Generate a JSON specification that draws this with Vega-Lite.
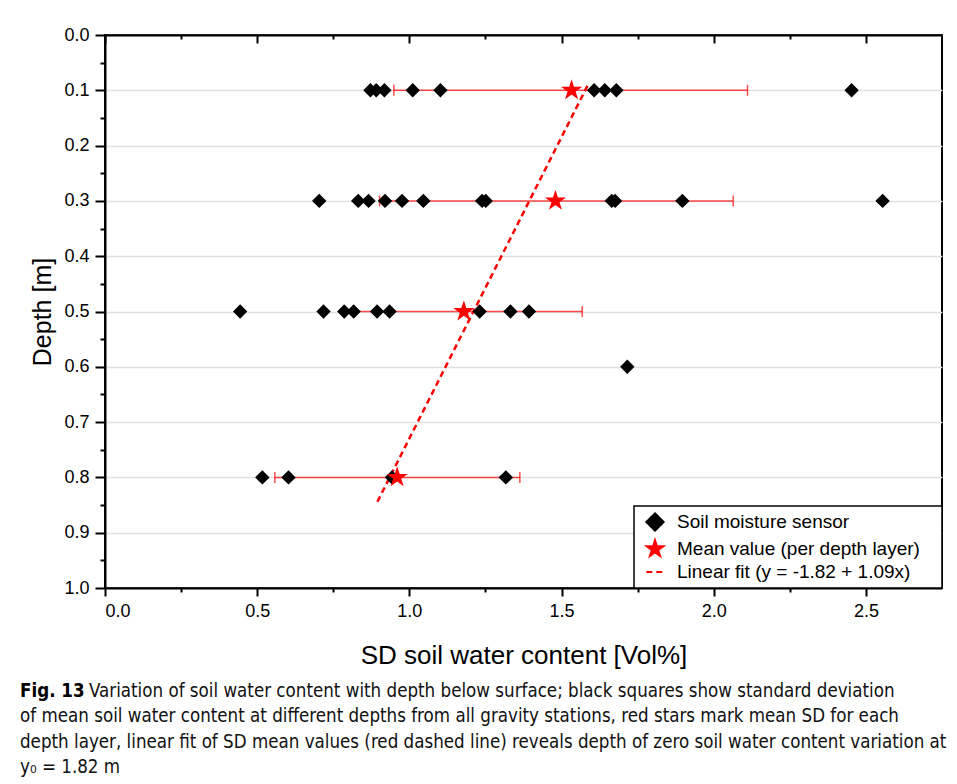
{
  "$schema": "https://vega.github.io/schema/vega-lite/v6.json",
  "width": 837,
  "height": 553,
  "autosize": {"type": "none"},
  "padding": {"left": 105, "top": 35, "right": 15, "bottom": 196},
  "background": "white",
  "config": {
    "font": "Liberation Sans",
    "view": {"stroke": "black", "strokeWidth": 2},
    "axis": {
      "labelFont": "Liberation Sans", "labelFontSize": 18, "labelColor": "black",
      "titleFont": "Liberation Sans", "titleFontWeight": "normal", "titleColor": "black",
      "domainColor": "black", "domainWidth": 2, "tickColor": "black", "tickWidth": 2
    },
    "legend": {
      "orient": "bottom-right", "offset": 0, "strokeColor": "black", "strokeWidth": 1.5,
      "fillColor": "white", "padding": 6, "labelFont": "Liberation Sans", "labelFontSize": 19,
      "labelColor": "black", "symbolSize": 300, "symbolOffset": 5, "rowPadding": 1, "labelOffset": 12, "cornerRadius": 0,
      "labelLimit": 500, "symbolStrokeWidth": 2
    }
  },
  "title": {
    "text": "Fig. 13",
    "subtitle": [
      "\u200b\u00a0\u00a0\u00a0\u00a0\u00a0\u00a0\u00a0\u00a0\u00a0\u00a0\u00a0\u00a0\u00a0Variation of soil water content with depth below surface; black squares show standard deviation",
      "of mean soil water content at different depths from all gravity stations, red stars mark mean SD for each",
      "depth layer, linear fit of SD mean values (red dashed line) reveals depth of zero soil water content variation at",
      "y\u2080 = 1.82 m"
    ],
    "orient": "bottom", "anchor": "start", "frame": "group", "dx": -85, "offset": 14,
    "font": "Liberation Sans Narrow, DejaVu Sans Condensed, sans-serif", "fontSize": 18.6, "fontWeight": "bold", "color": "black",
    "subtitleFont": "Liberation Sans Narrow, DejaVu Sans Condensed, sans-serif", "subtitleFontSize": 18.6, "subtitleColor": "#111111",
    "subtitleLineHeight": 25.5, "subtitlePadding": -19
  },
  "datasets": {
    "sensors": [
      {"depth": 0.1, "sd": 0.872, "series": "Soil moisture sensor"},
      {"depth": 0.1, "sd": 0.891, "series": "Soil moisture sensor"},
      {"depth": 0.1, "sd": 0.918, "series": "Soil moisture sensor"},
      {"depth": 0.1, "sd": 1.011, "series": "Soil moisture sensor"},
      {"depth": 0.1, "sd": 1.102, "series": "Soil moisture sensor"},
      {"depth": 0.1, "sd": 1.607, "series": "Soil moisture sensor"},
      {"depth": 0.1, "sd": 1.642, "series": "Soil moisture sensor"},
      {"depth": 0.1, "sd": 1.680, "series": "Soil moisture sensor"},
      {"depth": 0.1, "sd": 2.453, "series": "Soil moisture sensor"},
      {"depth": 0.3, "sd": 0.704, "series": "Soil moisture sensor"},
      {"depth": 0.3, "sd": 0.832, "series": "Soil moisture sensor"},
      {"depth": 0.3, "sd": 0.866, "series": "Soil moisture sensor"},
      {"depth": 0.3, "sd": 0.920, "series": "Soil moisture sensor"},
      {"depth": 0.3, "sd": 0.976, "series": "Soil moisture sensor"},
      {"depth": 0.3, "sd": 1.046, "series": "Soil moisture sensor"},
      {"depth": 0.3, "sd": 1.239, "series": "Soil moisture sensor"},
      {"depth": 0.3, "sd": 1.251, "series": "Soil moisture sensor"},
      {"depth": 0.3, "sd": 1.665, "series": "Soil moisture sensor"},
      {"depth": 0.3, "sd": 1.676, "series": "Soil moisture sensor"},
      {"depth": 0.3, "sd": 1.897, "series": "Soil moisture sensor"},
      {"depth": 0.3, "sd": 2.555, "series": "Soil moisture sensor"},
      {"depth": 0.5, "sd": 0.444, "series": "Soil moisture sensor"},
      {"depth": 0.5, "sd": 0.718, "series": "Soil moisture sensor"},
      {"depth": 0.5, "sd": 0.786, "series": "Soil moisture sensor"},
      {"depth": 0.5, "sd": 0.817, "series": "Soil moisture sensor"},
      {"depth": 0.5, "sd": 0.894, "series": "Soil moisture sensor"},
      {"depth": 0.5, "sd": 0.935, "series": "Soil moisture sensor"},
      {"depth": 0.5, "sd": 1.231, "series": "Soil moisture sensor"},
      {"depth": 0.5, "sd": 1.332, "series": "Soil moisture sensor"},
      {"depth": 0.5, "sd": 1.393, "series": "Soil moisture sensor"},
      {"depth": 0.6, "sd": 1.716, "series": "Soil moisture sensor"},
      {"depth": 0.8, "sd": 0.517, "series": "Soil moisture sensor"},
      {"depth": 0.8, "sd": 0.603, "series": "Soil moisture sensor"},
      {"depth": 0.8, "sd": 0.943, "series": "Soil moisture sensor"},
      {"depth": 0.8, "sd": 1.317, "series": "Soil moisture sensor"}
    ],
    "means": [
      {"depth": 0.1, "mean": 1.533, "lo": 0.949, "hi": 2.111, "series": "Mean value (per depth layer)"},
      {"depth": 0.3, "mean": 1.480, "lo": 0.902, "hi": 2.064, "series": "Mean value (per depth layer)"},
      {"depth": 0.5, "mean": 1.179, "lo": 0.790, "hi": 1.568, "series": "Mean value (per depth layer)"},
      {"depth": 0.8, "mean": 0.960, "lo": 0.558, "hi": 1.363, "series": "Mean value (per depth layer)"}
    ],
    "fit": [
      {"depth": 0.844, "sd": 0.895, "series": "Linear fit (y = -1.82 + 1.09x)"},
      {"depth": 0.092, "sd": 1.585, "series": "Linear fit (y = -1.82 + 1.09x)"}
    ]
  },
  "encoding": {
    "y": {
      "field": "depth", "type": "quantitative", "title": "Depth [m]",
      "scale": {"domain": [0, 1], "reverse": true, "nice": false, "zero": false},
      "axis": {
        "values": [0, 0.05, 0.1, 0.15, 0.2, 0.25, 0.3, 0.35, 0.4, 0.45, 0.5, 0.55, 0.6, 0.65, 0.7, 0.75, 0.8, 0.85, 0.9, 0.95, 1],
        "labelExpr": "round(datum.value*100) % 10 === 0 ? format(datum.value, '.1f') : ''",
        "tickSize": {"condition": {"test": "round(datum.value*100) % 10 === 0", "value": 10}, "value": 5},
        "grid": true, "gridColor": "#e0e0e0", "gridWidth": 1.5,
        "gridOpacity": {"condition": {"test": "round(datum.value*100) % 10 === 0", "value": 1}, "value": 0},
        "labelPadding": 6, "titleFontSize": 25, "titlePadding": 8
      }
    }
  },
  "layer": [
    {
      "data": {"name": "means"},
      "mark": {"type": "rule", "color": "#ff0000", "opacity": 0.7, "strokeWidth": 1.5},
      "encoding": {
        "x": {
          "field": "lo", "type": "quantitative",
          "scale": {"domain": [0, 2.75], "nice": false, "zero": false},
          "axis": {
            "orient": "top", "values": [0, 0.25, 0.5, 0.75, 1, 1.25, 1.5, 1.75, 2, 2.25, 2.5],
            "labels": false, "grid": false, "title": null,
            "tickSize": {"condition": {"test": "round(datum.value*100) % 50 === 0", "value": -8}, "value": -4}
          }
        },
        "x2": {"field": "hi"}
      }
    },
    {
      "data": {"name": "means"},
      "mark": {"type": "tick", "orient": "vertical", "color": "#ff0000", "opacity": 0.7, "size": 11, "thickness": 1.5},
      "encoding": {"x": {"field": "lo", "type": "quantitative", "axis": null}}
    },
    {
      "data": {"name": "means"},
      "mark": {"type": "tick", "orient": "vertical", "color": "#ff0000", "opacity": 0.7, "size": 11, "thickness": 1.5},
      "encoding": {"x": {"field": "hi", "type": "quantitative", "axis": null}}
    },
    {
      "data": {"name": "fit"},
      "mark": {"type": "line", "strokeWidth": 2.5},
      "encoding": {
        "x": {"field": "sd", "type": "quantitative", "axis": null},
        "stroke": {
          "field": "series", "type": "nominal",
          "scale": {
            "domain": ["Soil moisture sensor", "Mean value (per depth layer)", "Linear fit (y = -1.82 + 1.09x)"],
            "range": ["black", "red", "red"]
          },
          "legend": {"title": null, "labelExpr": "datum.label + '\u00a0\u00a0\u00a0\u200b'"}
        },
        "strokeDash": {
          "field": "series", "type": "nominal",
          "scale": {
            "domain": ["Soil moisture sensor", "Mean value (per depth layer)", "Linear fit (y = -1.82 + 1.09x)"],
            "range": [[1, 0], [1, 0], [6, 4]]
          },
          "legend": {"title": null, "labelExpr": "datum.label + '\u00a0\u00a0\u00a0\u200b'"}
        }
      }
    },
    {
      "data": {"name": "sensors"},
      "mark": {"type": "point", "filled": true, "size": 150, "strokeWidth": 1.5, "opacity": 1},
      "encoding": {
        "x": {
          "field": "sd", "type": "quantitative", "title": "SD soil water content [Vol%]",
          "axis": {
            "orient": "bottom", "values": [0, 0.25, 0.5, 0.75, 1, 1.25, 1.5, 1.75, 2, 2.25, 2.5],
            "labelExpr": "round(datum.value*100) % 50 === 0 ? format(datum.value, '.1f') : ''",
            "tickSize": {"condition": {"test": "round(datum.value*100) % 50 === 0", "value": 8}, "value": 4},
            "grid": false, "labelPadding": 6, "titleFontSize": 26, "titlePadding": 22
          }
        },
        "fill": {
          "field": "series", "type": "nominal",
          "scale": {
            "domain": ["Soil moisture sensor", "Mean value (per depth layer)", "Linear fit (y = -1.82 + 1.09x)"],
            "range": ["black", "red", "transparent"]
          },
          "legend": {"title": null, "labelExpr": "datum.label + '\u00a0\u00a0\u00a0\u200b'"}
        },
        "stroke": {"field": "series", "type": "nominal", "legend": {"title": null, "labelExpr": "datum.label + '\u00a0\u00a0\u00a0\u200b'"}},
        "shape": {
          "field": "series", "type": "nominal",
          "scale": {
            "domain": ["Soil moisture sensor", "Mean value (per depth layer)", "Linear fit (y = -1.82 + 1.09x)"],
            "range": ["diamond", "M0,-1L0.2245,-0.309L0.951,-0.309L0.363,0.118L0.588,0.809L0,0.382L-0.588,0.809L-0.363,0.118L-0.951,-0.309L-0.2245,-0.309Z", "stroke"]
          },
          "legend": {"title": null, "labelExpr": "datum.label + '\u00a0\u00a0\u00a0\u200b'"}
        }
      }
    },
    {
      "data": {"name": "means"},
      "mark": {"type": "point", "filled": true, "size": 300, "strokeWidth": 1.5, "opacity": 1},
      "encoding": {
        "x": {"field": "mean", "type": "quantitative", "axis": null},
        "fill": {"field": "series", "type": "nominal", "legend": {"title": null, "labelExpr": "datum.label + '\u00a0\u00a0\u00a0\u200b'"}},
        "stroke": {"field": "series", "type": "nominal", "legend": {"title": null, "labelExpr": "datum.label + '\u00a0\u00a0\u00a0\u200b'"}},
        "shape": {"field": "series", "type": "nominal", "legend": {"title": null, "labelExpr": "datum.label + '\u00a0\u00a0\u00a0\u200b'"}}
      }
    }
  ],
  "resolve": {"axis": {"x": "independent"}}
}
